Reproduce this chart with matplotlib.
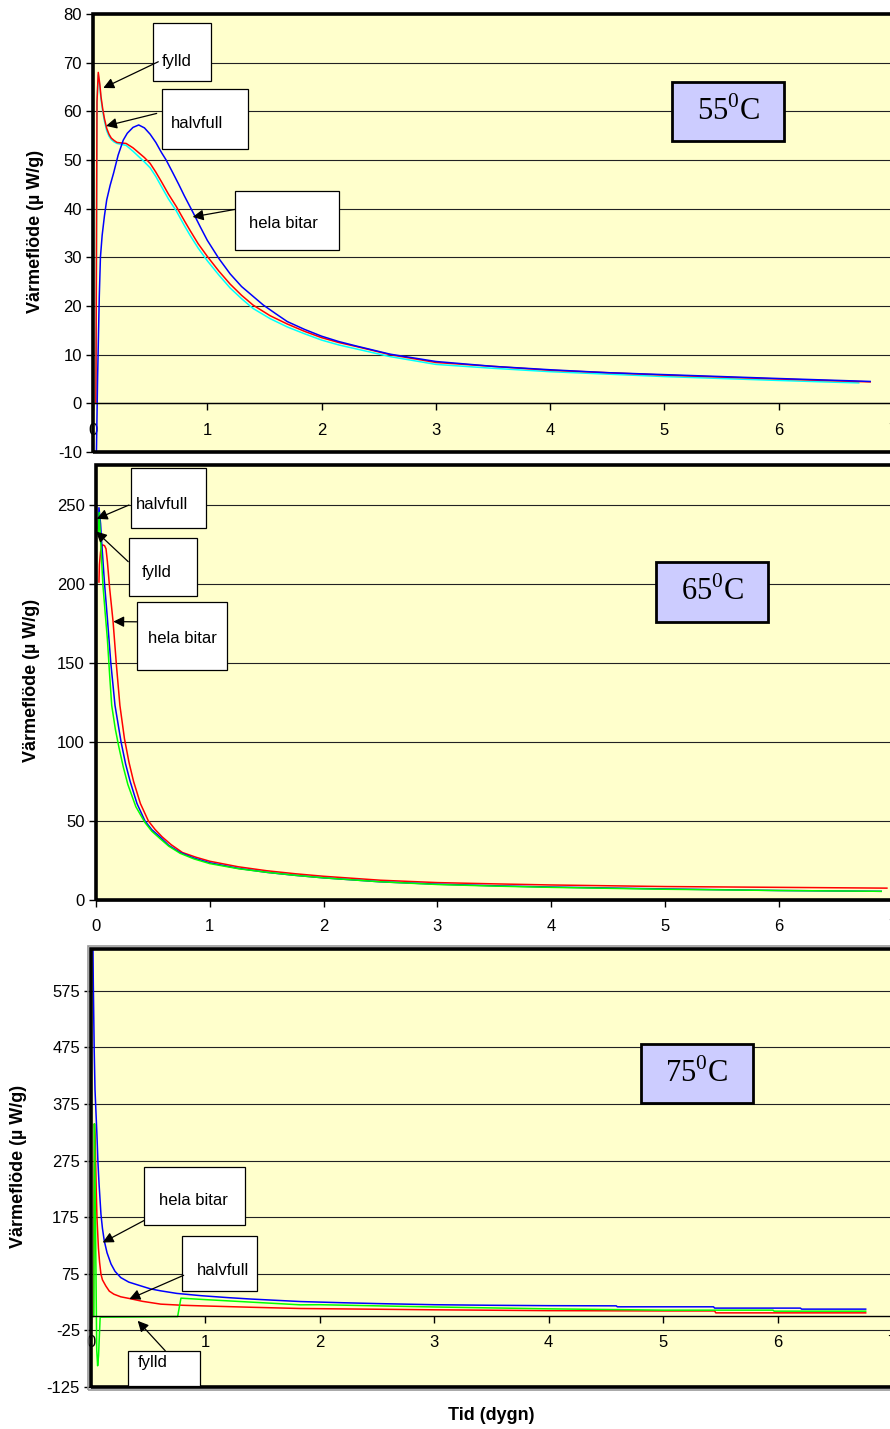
import numpy as np
import matplotlib
matplotlib.use('Agg')
import matplotlib.pyplot as plt
from matplotlib.patches import Rectangle

plt.rcParams['font.family'] = ['Liberation Sans', 'DejaVu Sans']
plt.rcParams['mathtext.fontset'] = 'custom'
plt.rcParams['mathtext.rm'] = 'Liberation Serif'
plt.rcParams['axes.unicode_minus'] = False

# --- 55 C ---
x55_fylld = [0.025, 0.03, 0.035, 0.046, 0.06, 0.07, 0.085, 0.1, 0.12, 0.14, 0.16, 0.185, 0.21, 0.25,
             0.29, 0.35, 0.4, 0.45, 0.5, 0.55, 0.6, 0.66, 0.73, 0.8, 0.85, 0.92, 1.0, 1.1, 1.2,
             1.3, 1.4, 1.55, 1.7, 1.85, 2.0, 2.15, 2.3, 2.6, 3.0, 3.5, 4.0, 4.5, 5.0, 5.5,
             6.0, 6.4, 6.8]
y55_fylld = [0, 30, 62, 68, 65.5, 63, 60.5, 58.5, 56.5, 55.3, 54.5, 54.0, 53.6, 53.5,
             53.4, 52.5, 51.5, 50.5, 49.3, 47.5, 45.5, 43.0, 40.4, 37.5, 35.5, 32.8, 30.2, 27.2, 24.5,
             22.2, 20.2, 18.0, 16.3, 14.8, 13.5, 12.5, 11.7, 10.0, 8.4, 7.6, 6.8, 6.3, 5.8, 5.4,
             5.0, 4.7, 4.4]
x55_halv = [0.025, 0.03, 0.035, 0.046, 0.06, 0.07, 0.085, 0.1, 0.12, 0.14, 0.16, 0.185, 0.21, 0.25,
            0.29, 0.35, 0.4, 0.45, 0.5, 0.55, 0.6, 0.66, 0.73, 0.8, 0.85, 0.92, 1.0, 1.1, 1.2,
            1.3, 1.4, 1.55, 1.7, 1.85, 2.0, 2.15, 2.3, 2.6, 3.0, 3.5, 4.0, 4.5, 5.0, 5.5,
            6.0, 6.4, 6.7]
y55_halv = [0, 30, 62, 67.5, 65, 62.5, 60, 58, 56, 54.9, 54.2, 53.7, 53.4, 53.2,
            53.0, 51.8, 50.7, 49.6, 48.4, 46.6, 44.5, 42.0, 39.5, 36.5, 34.5, 31.9, 29.3, 26.4, 23.7,
            21.5, 19.5, 17.4, 15.7, 14.3, 13.0, 12.0, 11.2, 9.6, 8.0, 7.2, 6.5, 6.0, 5.5, 5.1,
            4.7, 4.4, 4.2]
x55_hela = [0.022, 0.03, 0.04, 0.055, 0.065, 0.08, 0.1, 0.12, 0.15, 0.18, 0.22, 0.265, 0.3, 0.35,
            0.4, 0.45, 0.5, 0.55, 0.6, 0.64, 0.7, 0.75, 0.8, 0.88, 0.94, 1.0, 1.1, 1.2, 1.3,
            1.4, 1.49, 1.6, 1.7, 1.85, 2.0, 2.15, 2.3, 2.6, 3.0, 3.5, 4.0, 4.5, 5.0, 5.5,
            6.0, 6.4, 6.8]
y55_hela = [-15, -10, 5, 22, 30, 34.5, 38.5, 41.8, 44.8, 47.3, 51.0, 54.1, 55.5, 56.7,
            57.2, 56.6, 55.3, 53.6, 51.5, 50.0, 47.3, 45.0, 42.6, 39.0, 36.2, 33.5, 29.8, 26.6, 24.0,
            22.0, 20.2, 18.4, 16.8, 15.2, 13.8, 12.7, 11.8, 10.1, 8.6, 7.6, 6.9, 6.3, 5.9, 5.5,
            5.1, 4.8, 4.5]

# --- 65 C ---
x65_halv = [0.022, 0.026, 0.04, 0.05, 0.075, 0.1, 0.13, 0.167, 0.22, 0.26, 0.3, 0.36, 0.43, 0.49,
            0.56, 0.64, 0.74, 0.86, 1.0, 1.25, 1.5, 1.75, 2.0, 2.5, 3.0, 3.5, 4.0, 5.0, 6.0, 6.9]
y65_halv = [235, 248, 238, 226, 200, 178, 150, 123, 100, 86, 75, 61, 50, 44.5,
            40, 34.5, 30, 26.5, 23.5, 20, 17.5, 15.6, 14, 11.5, 10, 9, 8.2, 7.0, 6.0, 5.5]
x65_fylld = [0.02, 0.028, 0.04, 0.06, 0.08, 0.1, 0.12, 0.138, 0.17, 0.2, 0.24, 0.28, 0.35, 0.43,
             0.49, 0.56, 0.64, 0.74, 0.86, 1.0, 1.25, 1.5, 1.75, 2.0, 2.5, 3.0, 3.5, 4.0, 5.0,
             6.0, 6.9]
y65_fylld = [230, 245, 228, 200, 182, 165, 142, 123, 108, 97, 84, 73, 59, 49,
             43.5, 39, 34, 29.5, 26, 23, 19.8, 17.5, 15.6, 14, 11.5, 9.8, 8.8, 8.0, 6.8,
             6.0, 5.5]
x65_hela = [0.026, 0.03, 0.04, 0.05, 0.059, 0.075, 0.088, 0.1, 0.12, 0.15, 0.18, 0.21, 0.25, 0.29,
            0.33, 0.39, 0.46, 0.52, 0.58, 0.66, 0.76, 0.88, 1.0, 1.25, 1.5, 1.75, 2.0, 2.5, 3.0,
            3.5, 4.0, 5.0, 6.0, 6.95]
y65_hela = [201, 212, 220, 223.5, 224.5, 224, 222, 214, 197, 176, 148, 123, 102, 87,
            75, 61, 50, 44.5, 40, 35, 30, 27, 24.5, 21, 18.5, 16.6, 15, 12.5, 11,
            10.2, 9.5, 8.5, 8.0, 7.5]

# --- 75 C ---
x75_hela = [0.015, 0.02, 0.028, 0.035, 0.052, 0.06, 0.07, 0.087, 0.1, 0.116, 0.14, 0.175, 0.21, 0.26,
            0.33, 0.44, 0.52, 0.61, 0.75, 0.96, 1.2, 1.4, 1.83, 2.2, 2.5, 3.0, 3.5, 4.0, 4.59,
            4.6, 5.44, 5.45, 6.2, 6.21, 6.77]
y75_hela = [700, 590, 470, 400, 320, 275, 235, 180, 155, 133, 112, 92, 79, 68,
            60, 53, 48, 44.5, 40, 36, 32.5, 30, 25.6, 23.5, 22, 20, 19, 18.3, 18,
            16.3, 16.3, 14, 14, 12.2, 12.2]
x75_halv = [0.02, 0.03, 0.035, 0.045, 0.052, 0.065, 0.075, 0.087, 0.1, 0.13, 0.16, 0.2, 0.26, 0.335,
            0.45, 0.61, 0.8, 0.96, 1.4, 1.83, 2.5, 3.0, 4.0, 5.0, 5.45, 5.46, 6.77]
y75_halv = [0, 340, 320, 230, 174, 120, 95, 74, 64, 53, 44, 38.6, 34, 31,
            26, 21, 19, 18, 15.5, 13.3, 12, 11, 9.5, 9, 9, 5.6, 5.6]
x75_fylld = [0.0, 0.025, 0.03, 0.04, 0.05, 0.058, 0.066, 0.08, 0.757, 0.786, 1.0, 1.83, 2.0, 3.0,
             4.0, 5.0, 5.96, 5.97, 6.77]
y75_fylld = [-1, -1, 340, 150, -60, -88, -70, -2, -1, 31.6, 29, 19.8, 20, 16,
             12.7, 10.4, 10.4, 8.6, 8.6]

W, H = 890, 1429
fig = plt.figure(figsize=(W / 100, H / 100), dpi=100)


def px_axes(l, t, r, b):
    return fig.add_axes([l / W, 1 - b / H, (r - l) / W, (b - t) / H])


def setup(ax, ylim, yticks):
    ax.set_facecolor('#FFFFCC')
    ax.set_xlim(0, 7)
    ax.set_ylim(*ylim)
    for s in ['left', 'right', 'top']:
        ax.spines[s].set_visible(False)
    ax.spines['bottom'].set_position(('data', 0))
    ax.spines['bottom'].set_linewidth(1.0)
    ax.set_xticks(range(8))
    ax.tick_params(axis='x', direction='out', length=5, width=1, pad=9, labelsize=12)
    ax.set_yticks(yticks)
    ax.tick_params(axis='y', direction='out', length=5, width=1, pad=3, labelsize=12)
    ax.yaxis.grid(True, color='#222222', lw=0.8)
    ax.set_axisbelow(True)
    ax.add_patch(Rectangle((0, 0), 1, 1, transform=ax.transAxes, fill=False,
                           edgecolor='black', lw=2.6, clip_on=False, zorder=5))


def note(ax, text, rect, txy, start, tip):
    x0, x1, y0, y1 = rect
    ax.add_patch(Rectangle((x0, y0), x1 - x0, y1 - y0, transform=ax.transAxes,
                           facecolor='white', edgecolor='black', lw=0.9, zorder=6))
    ax.text(txy[0], txy[1], text, transform=ax.transAxes, ha='center', va='center',
            fontsize=12, zorder=7)
    ax.annotate('', xy=tip, xycoords='data', xytext=start, textcoords='axes fraction',
                arrowprops=dict(arrowstyle='-|>', color='black', lw=0.9, mutation_scale=16,
                                shrinkA=0, shrinkB=0), zorder=7)


def temp_box(ax, label, rect):
    x0, x1, y0, y1 = rect
    ax.add_patch(Rectangle((x0, y0), x1 - x0, y1 - y0, transform=ax.transAxes,
                           facecolor='#CCCCFF', edgecolor='black', lw=2, zorder=6))
    ax.text((x0 + x1) / 2, (y0 + y1) / 2, label, transform=ax.transAxes, ha='center',
            va='center', fontsize=22, family='Liberation Serif', zorder=7)


# 55 C panel
ax1 = px_axes(93, 14, 893, 452)
setup(ax1, (-10, 80), range(-10, 81, 10))
ax1.plot(x55_halv, y55_halv, color='#00FFFF', lw=1.1)
ax1.plot(x55_fylld, y55_fylld, color='#FF0000', lw=1.1)
ax1.plot(x55_hela, y55_hela, color='#0000FF', lw=1.1)
note(ax1, 'fylld', (0.0745, 0.148, 0.847, 0.979), (0.105, 0.892), (0.0816, 0.891), (0.09, 64.8))
note(ax1, 'halvfull', (0.0859, 0.194, 0.692, 0.829), (0.130, 0.750), (0.0796, 0.773), (0.114, 57.0))
note(ax1, 'hela bitar', (0.178, 0.3075, 0.461, 0.597), (0.238, 0.521), (0.178, 0.554), (0.872, 38.3))
temp_box(ax1, r'55$^{\mathrm{0}}$C', (0.724, 0.864, 0.710, 0.845))

# 65 C panel
ax2 = px_axes(96, 465, 892.6, 900)
setup(ax2, (0, 275), range(0, 251, 50))
ax2.plot(x65_hela, y65_hela, color='#FF0000', lw=1.1)
ax2.plot(x65_halv, y65_halv, color='#0000FF', lw=1.1)
ax2.plot(x65_fylld, y65_fylld, color='#00FF00', lw=1.1)
note(ax2, 'halvfull', (0.0436, 0.1377, 0.855, 0.993), (0.0829, 0.910), (0.0414, 0.908), (0.006, 241))
note(ax2, 'fylld', (0.0414, 0.1272, 0.699, 0.833), (0.0766, 0.752), (0.0405, 0.7777), (0.0, 233))
note(ax2, 'hela bitar', (0.0511, 0.164, 0.529, 0.686), (0.108, 0.602), (0.0511, 0.6395), (0.152, 176))
temp_box(ax2, r'65$^{\mathrm{0}}$C', (0.703, 0.8436, 0.639, 0.777))

# 75 C panel, framed by an extra grey line outside the black border
fig.add_artist(Rectangle((88 / W, 1 - 1390 / H), 810 / W, 444 / H, fill=False,
                         edgecolor='#999999', lw=1.2))
ax3 = px_axes(91, 948.5, 892, 1386.7)
setup(ax3, (-125, 650), range(-125, 576, 100))
ax3.plot(x75_halv, y75_halv, color='#FF0000', lw=1.1)
ax3.plot(x75_hela, y75_hela, color='#0000FF', lw=1.1)
ax3.plot(x75_fylld, y75_fylld, color='#00FF00', lw=1.1)
note(ax3, 'hela bitar', (0.0665, 0.1925, 0.368, 0.501), (0.1285, 0.425), (0.0665, 0.3795), (0.102, 130))
note(ax3, 'halvfull', (0.1135, 0.2067, 0.218, 0.345), (0.1647, 0.2657), (0.1157, 0.2543), (0.335, 30))
note(ax3, 'fylld', (0.0466, 0.1356, 0.0016, 0.082), (0.0773, 0.056), (0.0927, 0.082), (0.408, -8.5))
temp_box(ax3, r'75$^{\mathrm{0}}$C', (0.6862, 0.826, 0.648, 0.7825))

ylab = 'Värmeflöde (µ W/g)'
fig.text(36 / W, 1 - 231 / H, ylab, rotation=90, weight='bold', fontsize=13, ha='center', va='center')
fig.text(32 / W, 1 - 680 / H, ylab, rotation=90, weight='bold', fontsize=13, ha='center', va='center')
fig.text(19 / W, 1 - 1166 / H, ylab, rotation=90, weight='bold', fontsize=13, ha='center', va='center')
fig.text(491 / W, 1 - 1416 / H, 'Tid (dygn)', weight='bold', fontsize=13, ha='center', va='center')

fig.savefig('out.png', dpi=100)
